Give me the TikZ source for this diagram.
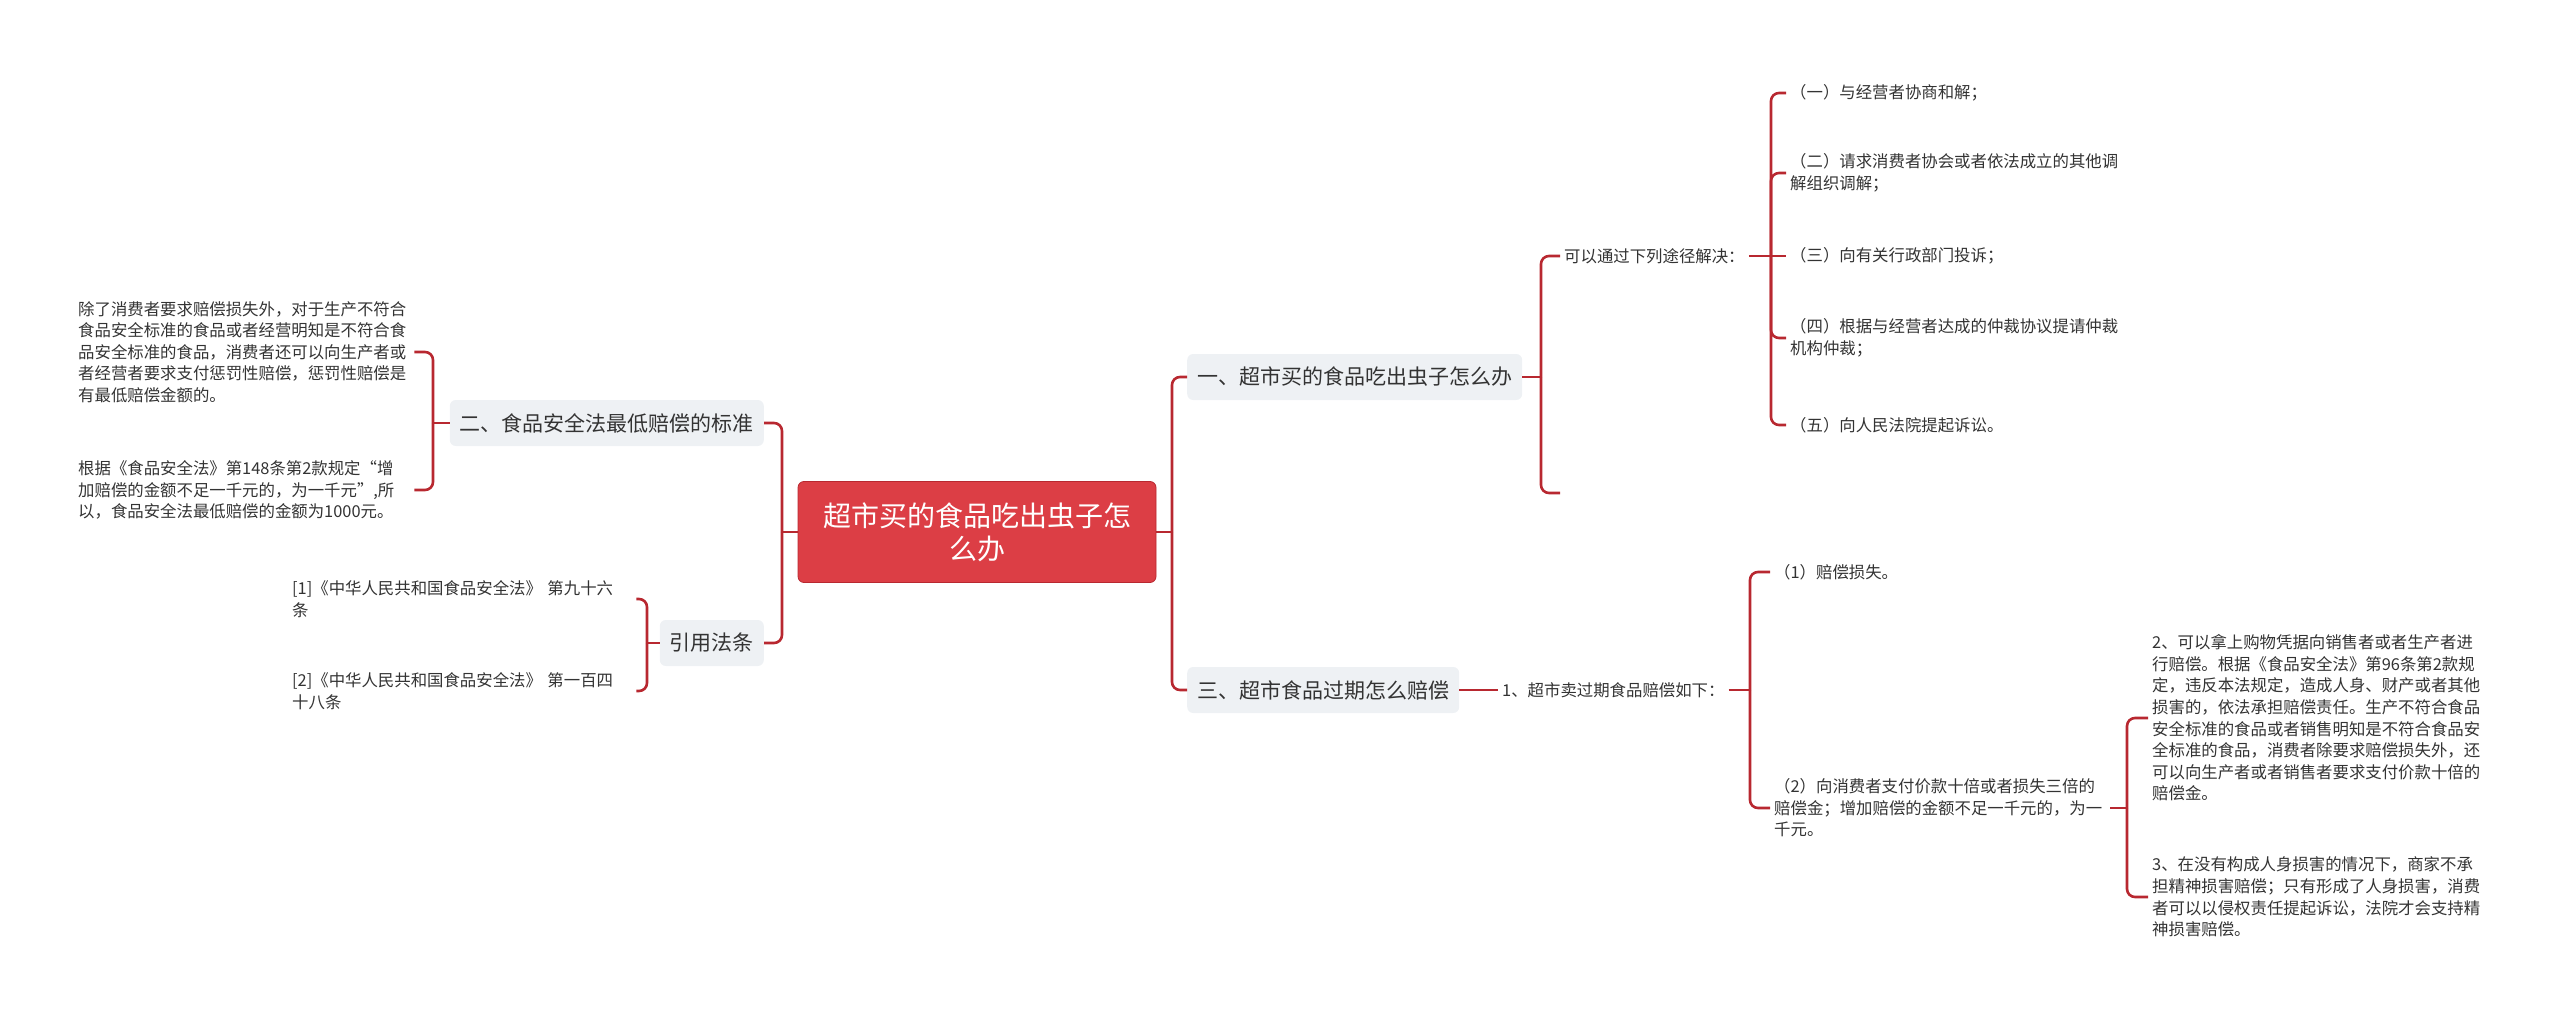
\documentclass[tikz,border=0pt]{standalone}
\usepackage{fontspec}
\setmainfont{Noto Sans CJK SC}
\usepackage{tikz}
\definecolor{mapred}{RGB}{220,62,69}
\definecolor{linkred}{RGB}{184,40,48}
\definecolor{topicgray}{RGB}{238,241,244}
\definecolor{txt}{RGB}{51,51,51}
\tikzset{
  root/.style={rectangle,rounded corners=6pt,fill=mapred,draw=linkred,line width=0.8pt,text=white,align=center,
    minimum width=358pt,minimum height=101pt,font=\fontsize{28}{33}\selectfont},
  topic/.style={rectangle,rounded corners=6pt,fill=topicgray,text=txt,inner xsep=10pt,minimum height=46pt,
    font=\fontsize{21}{25}\selectfont},
  leaf/.style={inner sep=4pt,text=txt,align=left,font=\fontsize{16.4}{21.6}\selectfont},
  link/.style={draw=linkred,line width=2.6pt,rounded corners=8pt}
}
\begin{document}
\begin{tikzpicture}[x=1pt,y=-1pt]
\useasboundingbox (0,0) rectangle (2560,1019);
\node[root](root)at(977,532){超市买的食品吃出虫子怎\\么办};
\node[topic,anchor=west](n1)at(1187,377){一、超市买的食品吃出虫子怎么办};
\node[topic,anchor=west](n3)at(1187,690){三、超市食品过期怎么赔偿};
\node[topic,anchor=east](n2)at(764,423){二、食品安全法最低赔偿的标准};
\node[topic,anchor=east](cite)at(764,643){引用法条};
% right: ways to solve
\node[leaf,anchor=west](way)at(1560,256){可以通过下列途径解决：};
\coordinate(blank)at(1560,493);
\node[leaf,anchor=west](w1)at(1786,93){（一）与经营者协商和解；};
\node[leaf,anchor=west,text width=332pt](w2)at(1786,173){（二）请求消费者协会或者依法成立的其他调\\解组织调解；};
\node[leaf,anchor=west](w3)at(1786,256){（三）向有关行政部门投诉；};
\node[leaf,anchor=west,text width=332pt](w4)at(1786,338){（四）根据与经营者达成的仲裁协议提请仲裁\\机构仲裁；};
\node[leaf,anchor=west](w5)at(1786,425){（五）向人民法院提起诉讼。};
% right: expired food
\node[leaf,anchor=west](x1)at(1498,690){1、超市卖过期食品赔偿如下：};
\node[leaf,anchor=west](y1)at(1770,572){（1）赔偿损失。};
\node[leaf,anchor=west,text width=332pt](y2)at(1770,808){（2）向消费者支付价款十倍或者损失三倍的\\赔偿金；增加赔偿的金额不足一千元的，为一\\千元。};
\node[leaf,anchor=west,text width=332pt](z2)at(2148,718){2、可以拿上购物凭据向销售者或者生产者进\\行赔偿。根据《食品安全法》第96条第2款规\\定，违反本法规定，造成人身、财产或者其他\\损害的，依法承担赔偿责任。生产不符合食品\\安全标准的食品或者销售明知是不符合食品安\\全标准的食品，消费者除要求赔偿损失外，还\\可以向生产者或者销售者要求支付价款十倍的\\赔偿金。};
\node[leaf,anchor=west,text width=332pt](z3)at(2148,897){3、在没有构成人身损害的情况下，商家不承\\担精神损害赔偿；只有形成了人身损害，消费\\者可以以侵权责任提起诉讼，法院才会支持精\\神损害赔偿。};
% left
\node[leaf,anchor=west,text width=332pt](p1)at(74,352){除了消费者要求赔偿损失外，对于生产不符合\\食品安全标准的食品或者经营明知是不符合食\\品安全标准的食品，消费者还可以向生产者或\\者经营者要求支付惩罚性赔偿，惩罚性赔偿是\\有最低赔偿金额的。};
\node[leaf,anchor=west,text width=332pt](p2)at(74,490){根据《食品安全法》第148条第2款规定“增\\加赔偿的金额不足一千元的，为一千元”,所\\以，食品安全法最低赔偿的金额为1000元。};
\node[leaf,anchor=west,text width=340pt](c1)at(288,599){[1]《中华人民共和国食品安全法》 第九十六\\条};
\node[leaf,anchor=west,text width=340pt](c2)at(288,691){[2]《中华人民共和国食品安全法》 第一百四\\十八条};
% connectors
\draw[link](root.east)--(1172,532)coordinate(jr);
\foreach \c in {n1,n3} \draw[link](jr)|-(\c.west);
\draw[link](root.west)--(782,532)coordinate(jl);
\foreach \c in {n2,cite} \draw[link](jl)|-(\c.east);
\draw[link](n1.east)--(1541,377)coordinate(j1);
\foreach \c in {way.west,blank} \draw[link](j1)|-(\c);
\draw[link](way.east)--(1771,256)coordinate(jw);
\foreach \c in {w1,w2,w4,w5} \draw[link](jw)|-(\c.west);
\draw[link](jw)--(w3.west);
\draw[link](n3.east)--(x1.west);
\draw[link](x1.east)--(1750,690)coordinate(jx);
\foreach \c in {y1,y2} \draw[link](jx)|-(\c.west);
\draw[link](y2.east)--(2127,808)coordinate(jy);
\foreach \c in {z2,z3} \draw[link](jy)|-(\c.west);
\draw[link](n2.west)--(433,423)coordinate(j2);
\foreach \c in {p1,p2} \draw[link](j2)|-(\c.east);
\draw[link](cite.west)--(647,643)coordinate(jc);
\foreach \c in {c1,c2} \draw[link](jc)|-(\c.east);
\end{tikzpicture}
\end{document}
